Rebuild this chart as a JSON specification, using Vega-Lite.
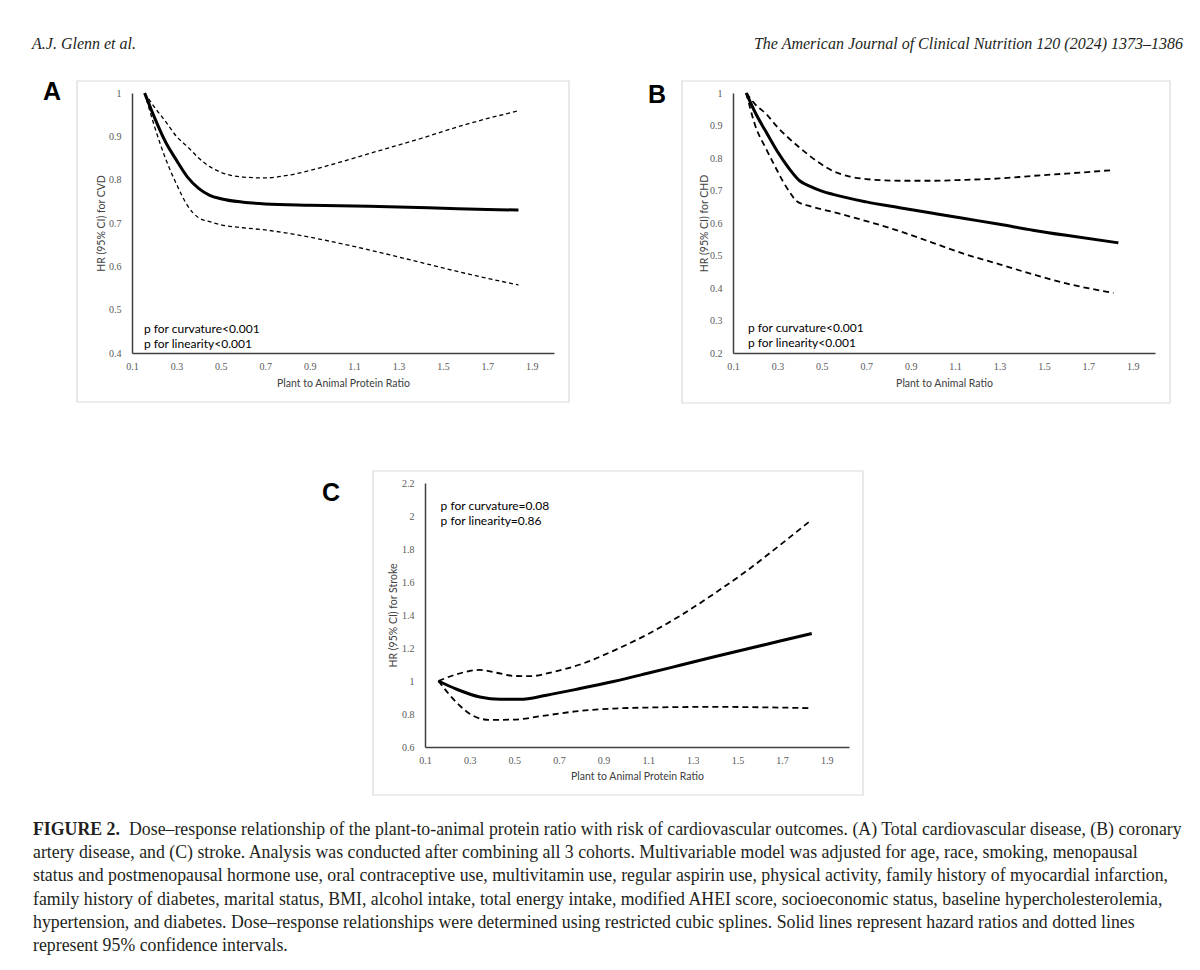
{
  "$schema": "https://vega.github.io/schema/vega-lite/v6.json",
  "background": "white",
  "padding": {"left": 32, "top": 34, "right": 16, "bottom": 10},
  "bounds": "full",
  "spacing": 0,
  "config": {"view": {"stroke": null}, "concat": {"spacing": 0}},
  "datasets": {
    "header": [
      {"side": "left", "label": "A.J. Glenn et al."},
      {"side": "right", "label": "The American Journal of Clinical Nutrition 120 (2024) 1373–1386"}
    ],
    "caption": [
      {"line": 1, "part": "label", "text": "FIGURE 2."},
      {"line": 1, "part": "first", "text": "Dose–response relationship of the plant-to-animal protein ratio with risk of cardiovascular outcomes. (A) Total cardiovascular disease, (B) coronary"},
      {"line": 2, "part": "body", "text": "artery disease, and (C) stroke. Analysis was conducted after combining all 3 cohorts. Multivariable model was adjusted for age, race, smoking, menopausal"},
      {"line": 3, "part": "body", "text": "status and postmenopausal hormone use, oral contraceptive use, multivitamin use, regular aspirin use, physical activity, family history of myocardial infarction,"},
      {"line": 4, "part": "body", "text": "family history of diabetes, marital status, BMI, alcohol intake, total energy intake, modified AHEI score, socioeconomic status, baseline hypercholesterolemia,"},
      {"line": 5, "part": "body", "text": "hypertension, and diabetes. Dose–response relationships were determined using restricted cubic splines. Solid lines represent hazard ratios and dotted lines"},
      {"line": 6, "part": "body", "text": "represent 95% confidence intervals."}
    ],
    "A": [
      {"series": "HR", "ratio": 0.157, "hr": 1.0}, {"series": "HR", "ratio": 0.2, "hr": 0.945}, {"series": "HR", "ratio": 0.25, "hr": 0.888}, {"series": "HR", "ratio": 0.3, "hr": 0.845}, {"series": "HR", "ratio": 0.35, "hr": 0.806}, {"series": "HR", "ratio": 0.4, "hr": 0.78}, {"series": "HR", "ratio": 0.45, "hr": 0.764}, {"series": "HR", "ratio": 0.5, "hr": 0.756}, {"series": "HR", "ratio": 0.6, "hr": 0.748}, {"series": "HR", "ratio": 0.7, "hr": 0.744}, {"series": "HR", "ratio": 0.9, "hr": 0.741}, {"series": "HR", "ratio": 1.1, "hr": 0.739}, {"series": "HR", "ratio": 1.3, "hr": 0.737}, {"series": "HR", "ratio": 1.5, "hr": 0.734}, {"series": "HR", "ratio": 1.7, "hr": 0.731}, {"series": "HR", "ratio": 1.84, "hr": 0.73},
      {"series": "Upper", "ratio": 0.157, "hr": 1.0}, {"series": "Upper", "ratio": 0.2, "hr": 0.968}, {"series": "Upper", "ratio": 0.25, "hr": 0.935}, {"series": "Upper", "ratio": 0.3, "hr": 0.9}, {"series": "Upper", "ratio": 0.35, "hr": 0.876}, {"series": "Upper", "ratio": 0.4, "hr": 0.85}, {"series": "Upper", "ratio": 0.45, "hr": 0.83}, {"series": "Upper", "ratio": 0.5, "hr": 0.817}, {"series": "Upper", "ratio": 0.6, "hr": 0.806}, {"series": "Upper", "ratio": 0.7, "hr": 0.804}, {"series": "Upper", "ratio": 0.8, "hr": 0.81}, {"series": "Upper", "ratio": 0.9, "hr": 0.821}, {"series": "Upper", "ratio": 1.0, "hr": 0.835}, {"series": "Upper", "ratio": 1.2, "hr": 0.865}, {"series": "Upper", "ratio": 1.4, "hr": 0.895}, {"series": "Upper", "ratio": 1.6, "hr": 0.927}, {"series": "Upper", "ratio": 1.84, "hr": 0.959},
      {"series": "Lower", "ratio": 0.157, "hr": 1.0}, {"series": "Lower", "ratio": 0.2, "hr": 0.925}, {"series": "Lower", "ratio": 0.25, "hr": 0.85}, {"series": "Lower", "ratio": 0.3, "hr": 0.79}, {"series": "Lower", "ratio": 0.35, "hr": 0.74}, {"series": "Lower", "ratio": 0.4, "hr": 0.712}, {"series": "Lower", "ratio": 0.45, "hr": 0.703}, {"series": "Lower", "ratio": 0.5, "hr": 0.696}, {"series": "Lower", "ratio": 0.6, "hr": 0.689}, {"series": "Lower", "ratio": 0.7, "hr": 0.684}, {"series": "Lower", "ratio": 0.85, "hr": 0.672}, {"series": "Lower", "ratio": 1.0, "hr": 0.657}, {"series": "Lower", "ratio": 1.2, "hr": 0.634}, {"series": "Lower", "ratio": 1.4, "hr": 0.609}, {"series": "Lower", "ratio": 1.6, "hr": 0.584}, {"series": "Lower", "ratio": 1.84, "hr": 0.557}
    ],
    "B": [
      {"series": "HR", "ratio": 0.16, "hr": 1.0}, {"series": "HR", "ratio": 0.2, "hr": 0.94}, {"series": "HR", "ratio": 0.25, "hr": 0.879}, {"series": "HR", "ratio": 0.3, "hr": 0.82}, {"series": "HR", "ratio": 0.35, "hr": 0.77}, {"series": "HR", "ratio": 0.4, "hr": 0.73}, {"series": "HR", "ratio": 0.45, "hr": 0.712}, {"series": "HR", "ratio": 0.5, "hr": 0.698}, {"series": "HR", "ratio": 0.55, "hr": 0.688}, {"series": "HR", "ratio": 0.7, "hr": 0.665}, {"series": "HR", "ratio": 0.85, "hr": 0.647}, {"series": "HR", "ratio": 1.0, "hr": 0.63}, {"series": "HR", "ratio": 1.15, "hr": 0.613}, {"series": "HR", "ratio": 1.3, "hr": 0.596}, {"series": "HR", "ratio": 1.45, "hr": 0.578}, {"series": "HR", "ratio": 1.6, "hr": 0.562}, {"series": "HR", "ratio": 1.835, "hr": 0.539},
      {"series": "Upper", "ratio": 0.16, "hr": 1.0}, {"series": "Upper", "ratio": 0.2, "hr": 0.965}, {"series": "Upper", "ratio": 0.25, "hr": 0.935}, {"series": "Upper", "ratio": 0.3, "hr": 0.895}, {"series": "Upper", "ratio": 0.34, "hr": 0.868}, {"series": "Upper", "ratio": 0.4, "hr": 0.832}, {"series": "Upper", "ratio": 0.476, "hr": 0.791}, {"series": "Upper", "ratio": 0.55, "hr": 0.76}, {"series": "Upper", "ratio": 0.626, "hr": 0.743}, {"series": "Upper", "ratio": 0.7, "hr": 0.735}, {"series": "Upper", "ratio": 0.85, "hr": 0.73}, {"series": "Upper", "ratio": 1.0, "hr": 0.73}, {"series": "Upper", "ratio": 1.15, "hr": 0.733}, {"series": "Upper", "ratio": 1.3, "hr": 0.737}, {"series": "Upper", "ratio": 1.45, "hr": 0.745}, {"series": "Upper", "ratio": 1.6, "hr": 0.752}, {"series": "Upper", "ratio": 1.813, "hr": 0.763},
      {"series": "Lower", "ratio": 0.16, "hr": 1.0}, {"series": "Lower", "ratio": 0.2, "hr": 0.9}, {"series": "Lower", "ratio": 0.25, "hr": 0.827}, {"series": "Lower", "ratio": 0.3, "hr": 0.76}, {"series": "Lower", "ratio": 0.325, "hr": 0.728}, {"series": "Lower", "ratio": 0.36, "hr": 0.69}, {"series": "Lower", "ratio": 0.385, "hr": 0.668}, {"series": "Lower", "ratio": 0.446, "hr": 0.652}, {"series": "Lower", "ratio": 0.55, "hr": 0.634}, {"series": "Lower", "ratio": 0.7, "hr": 0.606}, {"series": "Lower", "ratio": 0.85, "hr": 0.575}, {"series": "Lower", "ratio": 1.0, "hr": 0.539}, {"series": "Lower", "ratio": 1.15, "hr": 0.503}, {"series": "Lower", "ratio": 1.3, "hr": 0.473}, {"series": "Lower", "ratio": 1.45, "hr": 0.442}, {"series": "Lower", "ratio": 1.6, "hr": 0.414}, {"series": "Lower", "ratio": 1.813, "hr": 0.385}
    ],
    "C": [
      {"series": "HR", "ratio": 0.16, "hr": 1.0}, {"series": "HR", "ratio": 0.242, "hr": 0.95}, {"series": "HR", "ratio": 0.346, "hr": 0.903}, {"series": "HR", "ratio": 0.436, "hr": 0.889}, {"series": "HR", "ratio": 0.526, "hr": 0.889}, {"series": "HR", "ratio": 0.645, "hr": 0.914}, {"series": "HR", "ratio": 0.795, "hr": 0.954}, {"series": "HR", "ratio": 0.944, "hr": 0.997}, {"series": "HR", "ratio": 1.093, "hr": 1.045}, {"series": "HR", "ratio": 1.243, "hr": 1.095}, {"series": "HR", "ratio": 1.392, "hr": 1.145}, {"series": "HR", "ratio": 1.542, "hr": 1.194}, {"series": "HR", "ratio": 1.691, "hr": 1.242}, {"series": "HR", "ratio": 1.833, "hr": 1.288},
      {"series": "Upper", "ratio": 0.16, "hr": 1.0}, {"series": "Upper", "ratio": 0.242, "hr": 1.041}, {"series": "Upper", "ratio": 0.346, "hr": 1.067}, {"series": "Upper", "ratio": 0.421, "hr": 1.05}, {"series": "Upper", "ratio": 0.496, "hr": 1.031}, {"series": "Upper", "ratio": 0.571, "hr": 1.029}, {"series": "Upper", "ratio": 0.675, "hr": 1.055}, {"series": "Upper", "ratio": 0.795, "hr": 1.1}, {"series": "Upper", "ratio": 0.944, "hr": 1.183}, {"series": "Upper", "ratio": 1.093, "hr": 1.28}, {"series": "Upper", "ratio": 1.243, "hr": 1.395}, {"series": "Upper", "ratio": 1.392, "hr": 1.526}, {"series": "Upper", "ratio": 1.542, "hr": 1.668}, {"series": "Upper", "ratio": 1.691, "hr": 1.824}, {"series": "Upper", "ratio": 1.833, "hr": 1.978},
      {"series": "Lower", "ratio": 0.16, "hr": 1.0}, {"series": "Lower", "ratio": 0.242, "hr": 0.869}, {"series": "Lower", "ratio": 0.317, "hr": 0.788}, {"series": "Lower", "ratio": 0.391, "hr": 0.764}, {"series": "Lower", "ratio": 0.496, "hr": 0.766}, {"series": "Lower", "ratio": 0.645, "hr": 0.792}, {"series": "Lower", "ratio": 0.795, "hr": 0.819}, {"series": "Lower", "ratio": 0.944, "hr": 0.833}, {"series": "Lower", "ratio": 1.093, "hr": 0.839}, {"series": "Lower", "ratio": 1.392, "hr": 0.843}, {"series": "Lower", "ratio": 1.691, "hr": 0.839}, {"series": "Lower", "ratio": 1.833, "hr": 0.835}
    ]
  },
  "vconcat": [
    {
      "width": 1151, "height": 20,
      "data": {"name": "header"},
      "layer": [
        {"transform": [{"filter": "datum.side === 'left'"}],
         "mark": {"type": "text", "align": "left", "baseline": "middle", "font": "Liberation Serif", "fontStyle": "italic", "fontSize": 16, "color": "#231f20"},
         "encoding": {"x": {"field": "side", "type": "nominal", "scale": {"type": "point", "domain": ["left", "right"], "padding": 0}, "axis": null}, "text": {"field": "label"}}},
        {"transform": [{"filter": "datum.side === 'right'"}],
         "mark": {"type": "text", "align": "right", "baseline": "middle", "font": "Liberation Serif", "fontStyle": "italic", "fontSize": 16, "color": "#231f20"},
         "encoding": {"x": {"field": "side", "type": "nominal", "axis": null}, "text": {"field": "label"}}}
      ]
    },
    {"width": 10, "height": 26, "data": {"values": []}, "mark": {"type": "point", "opacity": 0}},
    {
      "bounds": "flush",
      "spacing": 0,
      "hconcat": [
        {"width": 100, "height": 260, "data": {"values": []}, "mark": {"type": "point", "opacity": 0}},
        {
          "width": 422, "height": 260,
          "title": {"text": "A", "anchor": "start", "frame": "group", "offset": 0, "baseline": "top", "dx": -89, "dy": 25, "font": "Liberation Sans", "fontSize": 25, "fontWeight": "bold", "color": "#000000"},
          "layer": [
            {"data": {"values": [{}]},
             "mark": {"type": "rect", "filled": false, "stroke": "#d9d9d9", "strokeWidth": 1.2},
             "encoding": {"x": {"datum": -0.1476, "type": "quantitative"}, "x2": {"datum": 2.0675}, "y": {"datum": 1.0277, "type": "quantitative"}, "y2": {"datum": 0.2869}}},
            {"data": {"name": "A"}, "transform": [{"filter": "datum.series !== 'HR'"}],
             "mark": {"type": "line", "interpolate": "monotone", "strokeDash": [4, 3], "strokeWidth": 1.3, "color": "#000000"},
             "encoding": {
               "x": {"field": "ratio", "type": "quantitative", "scale": {"domain": [0.1, 2.0], "nice": false, "zero": false},
                     "axis": {"values": [0.1, 0.3, 0.5, 0.7, 0.9, 1.1, 1.3, 1.5, 1.7, 1.9], "tickCount": 30, "format": ".1f", "grid": false, "ticks": false, "tickSize": 0, "labelPadding": 8, "labelFont": "Liberation Serif", "labelFontSize": 10, "labelColor": "#595959", "labelFlush": false, "labelOverlap": false, "domainColor": "#404040", "domainWidth": 1.5, "title": "Plant to Animal Protein Ratio", "titleFont": "Lato", "titleFontSize": 10.5, "titleFontWeight": "normal", "titleColor": "#404040", "titleY": 30, "titleBaseline": "middle"}},
               "y": {"field": "hr", "type": "quantitative", "scale": {"domain": [0.4, 1], "nice": false, "zero": false},
                     "axis": {"values": [0.4, 0.5, 0.6, 0.7, 0.8, 0.9, 1], "tickCount": 30, "format": ".1~f", "grid": false, "ticks": false, "tickSize": 0, "labelPadding": 11, "labelFont": "Liberation Serif", "labelFontSize": 10, "labelColor": "#595959", "labelFlush": false, "labelOverlap": false, "domainColor": "#404040", "domainWidth": 1.5, "title": "HR (95% CI) for CVD", "titleFont": "Lato", "titleFontSize": 10.5, "titleFontWeight": "normal", "titleColor": "#404040", "titleX": -31, "titleY": 130, "titleAngle": -90, "titleAlign": "center", "titleBaseline": "middle"}},
               "detail": {"field": "series"}}},
            {"data": {"name": "A"}, "transform": [{"filter": "datum.series === 'HR'"}],
             "mark": {"type": "line", "interpolate": "monotone", "strokeWidth": 3, "color": "#000000"},
             "encoding": {"x": {"field": "ratio", "type": "quantitative"}, "y": {"field": "hr", "type": "quantitative"}}},
            {"data": {"values": [{}]},
             "mark": {"type": "text", "align": "left", "baseline": "middle", "font": "Lato", "fontSize": 12, "lineHeight": 15, "color": "#000000"},
             "encoding": {"x": {"datum": 0.154, "type": "quantitative"}, "y": {"datum": 0.4565, "type": "quantitative"}, "text": {"value": ["p for curvature<0.001", "p for linearity<0.001"]}}}
          ]
        },
        {"width": 179, "height": 260, "data": {"values": []}, "mark": {"type": "point", "opacity": 0}},
        {
          "width": 422, "height": 260,
          "title": {"text": "B", "anchor": "start", "frame": "group", "offset": 0, "baseline": "top", "dx": -85, "dy": 28, "font": "Liberation Sans", "fontSize": 25, "fontWeight": "bold", "color": "#000000"},
          "layer": [
            {"data": {"values": [{}]},
             "mark": {"type": "rect", "filled": false, "stroke": "#d9d9d9", "strokeWidth": 1.2},
             "encoding": {"x": {"datum": -0.1296, "type": "quantitative"}, "x2": {"datum": 2.0675}, "y": {"datum": 1.0369, "type": "quantitative"}, "y2": {"datum": 0.0462}}},
            {"data": {"name": "B"}, "transform": [{"filter": "datum.series !== 'HR'"}],
             "mark": {"type": "line", "interpolate": "monotone", "strokeDash": [6, 4], "strokeWidth": 1.8, "color": "#000000"},
             "encoding": {
               "x": {"field": "ratio", "type": "quantitative", "scale": {"domain": [0.1, 2.0], "nice": false, "zero": false},
                     "axis": {"values": [0.1, 0.3, 0.5, 0.7, 0.9, 1.1, 1.3, 1.5, 1.7, 1.9], "tickCount": 30, "format": ".1f", "grid": false, "ticks": false, "tickSize": 0, "labelPadding": 8, "labelFont": "Liberation Serif", "labelFontSize": 10, "labelColor": "#595959", "labelFlush": false, "labelOverlap": false, "domainColor": "#404040", "domainWidth": 1.5, "title": "Plant to Animal Ratio", "titleFont": "Lato", "titleFontSize": 10.5, "titleFontWeight": "normal", "titleColor": "#404040", "titleY": 30, "titleBaseline": "middle"}},
               "y": {"field": "hr", "type": "quantitative", "scale": {"domain": [0.2, 1], "nice": false, "zero": false},
                     "axis": {"values": [0.2, 0.3, 0.4, 0.5, 0.6, 0.7, 0.8, 0.9, 1], "tickCount": 30, "format": ".1~f", "grid": false, "ticks": false, "tickSize": 0, "labelPadding": 11, "labelFont": "Liberation Serif", "labelFontSize": 10, "labelColor": "#595959", "labelFlush": false, "labelOverlap": false, "domainColor": "#404040", "domainWidth": 1.5, "title": "HR (95% CI) for CHD", "titleFont": "Lato", "titleFontSize": 10.5, "titleFontWeight": "normal", "titleColor": "#404040", "titleX": -29, "titleY": 130, "titleAngle": -90, "titleAlign": "center", "titleBaseline": "middle"}},
               "detail": {"field": "series"}}},
            {"data": {"name": "B"}, "transform": [{"filter": "datum.series === 'HR'"}],
             "mark": {"type": "line", "interpolate": "monotone", "strokeWidth": 3, "color": "#000000"},
             "encoding": {"x": {"field": "ratio", "type": "quantitative"}, "y": {"field": "hr", "type": "quantitative"}}},
            {"data": {"values": [{}]},
             "mark": {"type": "text", "align": "left", "baseline": "middle", "font": "Lato", "fontSize": 12, "lineHeight": 15, "color": "#000000"},
             "encoding": {"x": {"datum": 0.1675, "type": "quantitative"}, "y": {"datum": 0.2754, "type": "quantitative"}, "text": {"value": ["p for curvature<0.001", "p for linearity<0.001"]}}}
          ]
        }
      ]
    },
    {"width": 10, "height": 66, "data": {"values": []}, "mark": {"type": "point", "opacity": 0}},
    {
      "bounds": "flush",
      "spacing": 0,
      "hconcat": [
        {"width": 393, "height": 264, "data": {"values": []}, "mark": {"type": "point", "opacity": 0}},
        {
          "width": 424, "height": 264,
          "title": {"text": "C", "anchor": "start", "frame": "group", "offset": 0, "baseline": "top", "dx": -103, "dy": 36, "font": "Liberation Sans", "fontSize": 25, "fontWeight": "bold", "color": "#000000"},
          "layer": [
            {"data": {"values": [{}]},
             "mark": {"type": "rect", "filled": false, "stroke": "#d9d9d9", "strokeWidth": 1.2},
             "encoding": {"x": {"datum": -0.133, "type": "quantitative"}, "x2": {"datum": 2.0627}, "y": {"datum": 2.2727, "type": "quantitative"}, "y2": {"datum": 0.309}}},
            {"data": {"name": "C"}, "transform": [{"filter": "datum.series !== 'HR'"}],
             "mark": {"type": "line", "interpolate": "monotone", "strokeDash": [6, 4], "strokeWidth": 1.8, "color": "#000000"},
             "encoding": {
               "x": {"field": "ratio", "type": "quantitative", "scale": {"domain": [0.1, 2.0], "nice": false, "zero": false},
                     "axis": {"values": [0.1, 0.3, 0.5, 0.7, 0.9, 1.1, 1.3, 1.5, 1.7, 1.9], "tickCount": 30, "format": ".1f", "grid": false, "ticks": false, "tickSize": 0, "labelPadding": 8, "labelFont": "Liberation Serif", "labelFontSize": 10, "labelColor": "#595959", "labelFlush": false, "labelOverlap": false, "domainColor": "#404040", "domainWidth": 1.5, "title": "Plant to Animal Protein Ratio", "titleFont": "Lato", "titleFontSize": 10.5, "titleFontWeight": "normal", "titleColor": "#404040", "titleY": 29, "titleBaseline": "middle"}},
               "y": {"field": "hr", "type": "quantitative", "scale": {"domain": [0.6, 2.2], "nice": false, "zero": false},
                     "axis": {"values": [0.6, 0.8, 1, 1.2, 1.4, 1.6, 1.8, 2, 2.2], "tickCount": 30, "format": ".1~f", "grid": false, "ticks": false, "tickSize": 0, "labelPadding": 11, "labelFont": "Liberation Serif", "labelFontSize": 10, "labelColor": "#595959", "labelFlush": false, "labelOverlap": false, "domainColor": "#404040", "domainWidth": 1.5, "title": "HR (95% CI) for Stroke", "titleFont": "Lato", "titleFontSize": 10.5, "titleFontWeight": "normal", "titleColor": "#404040", "titleX": -32, "titleY": 132, "titleAngle": -90, "titleAlign": "center", "titleBaseline": "middle"}},
               "detail": {"field": "series"}}},
            {"data": {"name": "C"}, "transform": [{"filter": "datum.series === 'HR'"}],
             "mark": {"type": "line", "interpolate": "monotone", "strokeWidth": 3, "color": "#000000"},
             "encoding": {"x": {"field": "ratio", "type": "quantitative"}, "y": {"field": "hr", "type": "quantitative"}}},
            {"data": {"values": [{}]},
             "mark": {"type": "text", "align": "left", "baseline": "middle", "font": "Lato", "fontSize": 12, "lineHeight": 15, "color": "#000000"},
             "encoding": {"x": {"datum": 0.17, "type": "quantitative"}, "y": {"datum": 2.0636, "type": "quantitative"}, "text": {"value": ["p for curvature=0.08", "p for linearity=0.86"]}}}
          ]
        }
      ]
    },
    {"width": 10, "height": 22, "data": {"values": []}, "mark": {"type": "point", "opacity": 0}},
    {
      "width": 1148, "height": 140,
      "data": {"name": "caption"},
      "encoding": {
        "y": {"field": "line", "type": "ordinal", "scale": {"type": "point", "padding": 0.5, "domain": [1, 2, 3, 4, 5, 6]}, "axis": null},
        "text": {"field": "text"}
      },
      "layer": [
        {"transform": [{"filter": "datum.part === 'label'"}],
         "mark": {"type": "text", "align": "left", "baseline": "middle", "font": "Liberation Serif", "fontSize": 17.8, "fontWeight": "bold", "color": "#231f20"},
         "encoding": {"x": {"value": 1}}},
        {"transform": [{"filter": "datum.part === 'first'"}],
         "mark": {"type": "text", "align": "left", "baseline": "middle", "font": "Liberation Serif", "fontSize": 17.8, "color": "#231f20", "dx": 96},
         "encoding": {"x": {"value": 1}}},
        {"transform": [{"filter": "datum.part === 'body'"}],
         "mark": {"type": "text", "align": "left", "baseline": "middle", "font": "Liberation Serif", "fontSize": 17.8, "color": "#231f20"},
         "encoding": {"x": {"value": 1}}}
      ]
    }
  ]
}
